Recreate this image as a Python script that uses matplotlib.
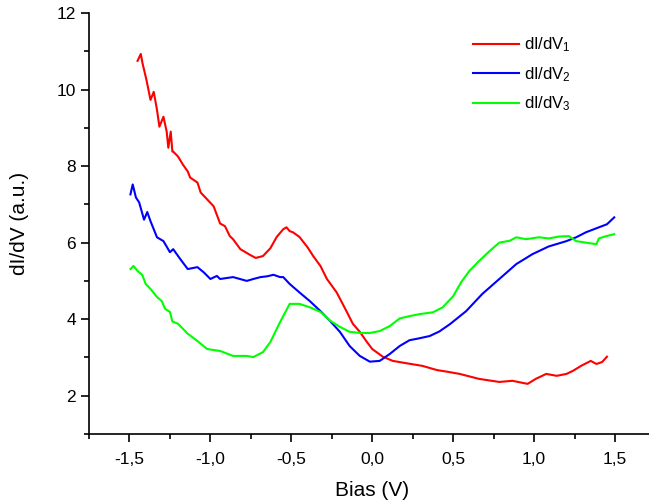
import matplotlib
matplotlib.use("Agg")
import matplotlib.pyplot as plt
from matplotlib.ticker import MultipleLocator, FuncFormatter

plt.rcParams['font.family'] = ['Liberation Sans', 'DejaVu Sans']
plt.rcParams['mathtext.default'] = 'regular'

# dI/dV1 (red)
x1 = [-1.45, -1.43, -1.42, -1.395, -1.37, -1.35, -1.33, -1.315, -1.29, -1.27, -1.26, -1.245, -1.235,
      -1.23, -1.2, -1.17, -1.14, -1.125, -1.08, -1.06, -1.02, -0.98, -0.94, -0.91, -0.88, -0.86,
      -0.815, -0.755, -0.72, -0.675, -0.63, -0.59, -0.55, -0.53, -0.51, -0.49, -0.45, -0.40,
      -0.365, -0.32, -0.28, -0.22, -0.157, -0.12, -0.077, -0.034, 0.0, 0.065, 0.127, 0.21,
      0.31, 0.40, 0.46, 0.54, 0.66, 0.785, 0.866, 0.96, 1.01, 1.075, 1.14, 1.2, 1.24, 1.29,
      1.35, 1.385, 1.42, 1.45]
y1 = [10.75, 10.93, 10.7, 10.25, 9.73, 9.94, 9.47, 9.03, 9.29, 8.9, 8.48, 8.9, 8.38,
      8.38, 8.25, 8.04, 7.86, 7.7, 7.57, 7.31, 7.13, 6.95, 6.5, 6.43, 6.17, 6.09,
      5.83, 5.68, 5.6, 5.65, 5.85, 6.15, 6.35, 6.4, 6.3, 6.27, 6.15, 5.88,
      5.65, 5.39, 5.05, 4.7, 4.19, 3.88, 3.67, 3.41, 3.22, 3.02, 2.91, 2.85,
      2.78, 2.67, 2.63, 2.57, 2.44, 2.36, 2.39, 2.31, 2.44, 2.57, 2.52, 2.57, 2.65, 2.78,
      2.91, 2.83, 2.88, 3.02]

# dI/dV2 (blue)
x2 = [-1.494, -1.48, -1.46, -1.44, -1.41, -1.39, -1.37, -1.35, -1.33, -1.29, -1.25, -1.23,
      -1.186, -1.14, -1.08, -1.04, -1.0, -0.96, -0.94, -0.86, -0.775, -0.735, -0.69, -0.65,
      -0.61, -0.57, -0.55, -0.51, -0.45, -0.385, -0.32, -0.26, -0.2, -0.14, -0.077, -0.015,
      0.046, 0.108, 0.17, 0.23, 0.29, 0.355, 0.415, 0.48, 0.58, 0.68, 0.785, 0.89, 0.99,
      1.09, 1.2, 1.26, 1.32, 1.4, 1.45, 1.495]
y2 = [7.26, 7.52, 7.18, 7.05, 6.6, 6.8, 6.56, 6.35, 6.14, 6.04, 5.75, 5.83,
      5.57, 5.31, 5.36, 5.22, 5.05, 5.13, 5.05, 5.1, 5.0, 5.05, 5.1, 5.12,
      5.16, 5.1, 5.1, 4.92, 4.7, 4.47, 4.21, 3.95, 3.67, 3.3, 3.04, 2.89,
      2.91, 3.09, 3.3, 3.45, 3.5, 3.56, 3.68, 3.87, 4.21, 4.66, 5.05, 5.44, 5.7,
      5.9, 6.04, 6.14, 6.27, 6.4, 6.48, 6.66]

# dI/dV3 (green)
x3 = [-1.494, -1.475, -1.45, -1.42, -1.4, -1.37, -1.33, -1.3, -1.28, -1.25, -1.235, -1.2,
      -1.14, -1.08, -1.02, -0.94, -0.86, -0.775, -0.735, -0.675, -0.63, -0.57, -0.51,
      -0.45, -0.385, -0.32, -0.26, -0.2, -0.14, -0.077, -0.015, 0.046, 0.108, 0.17, 0.23,
      0.29, 0.375, 0.435, 0.5, 0.55, 0.6, 0.66, 0.725, 0.785, 0.85, 0.89, 0.95, 1.03,
      1.09, 1.155, 1.215, 1.26, 1.32, 1.385, 1.4, 1.445, 1.495]
y3 = [5.31, 5.39, 5.26, 5.15, 4.92, 4.79, 4.58, 4.47, 4.27, 4.19, 3.94, 3.88,
      3.62, 3.43, 3.22, 3.17, 3.04, 3.04, 3.01, 3.14, 3.4, 3.92, 4.4,
      4.4, 4.31, 4.19, 3.96, 3.8, 3.67, 3.64, 3.64, 3.69, 3.82, 4.02, 4.08,
      4.13, 4.18, 4.31, 4.6, 4.97, 5.26, 5.52, 5.78, 6.0, 6.05, 6.14, 6.09, 6.14,
      6.11, 6.16, 6.17, 6.04, 6.0, 5.96, 6.11, 6.17, 6.22]

labels = ['dI/dV$_1$', 'dI/dV$_2$', 'dI/dV$_3$']
colors = ['#ff0000', '#0000ff', '#00ff00']

W, H = 649, 503
fig = plt.figure(figsize=(W / 100, H / 100), dpi=100)
left, right, bottom, top = 89, 655.5, 434, 13
ax = fig.add_axes([left / W, (H - bottom) / H, (right - left) / W, (bottom - top) / H])

for xs, ys, c, lab in zip([x1, x2, x3], [y1, y2, y3], colors, labels):
    ax.plot(xs, ys, color=c, lw=1.5, label=lab)

ax.set_xlim(-1.75, 1.75)
ax.set_ylim(1, 12)
ax.spines['top'].set_visible(False)
ax.spines['right'].set_visible(False)
for s in ['left', 'bottom']:
    ax.spines[s].set_linewidth(1.2)

ax.xaxis.set_major_locator(MultipleLocator(0.5))
ax.xaxis.set_minor_locator(MultipleLocator(0.25))
ax.yaxis.set_major_locator(MultipleLocator(2))
ax.yaxis.set_minor_locator(MultipleLocator(1))
ax.xaxis.set_major_formatter(FuncFormatter(lambda v, p: f"{v:.1f}".replace('.', ',').replace('\u2212', '-')))
ax.yaxis.set_major_formatter(FuncFormatter(lambda v, p: f"{v:.0f}"))
ax.tick_params(which='major', direction='out', length=6, width=1.2, labelsize=12.5)
ax.tick_params(which='minor', direction='out', length=3.5, width=1.2)
ax.tick_params(axis='x', which='major', pad=7)
ax.tick_params(axis='y', which='major', pad=3.5)

ax.set_xlabel('Bias (V)', fontsize=15, labelpad=10)
ax.set_ylabel('dI/dV (a.u.)', fontsize=15, labelpad=20)

leg = ax.legend(loc='upper left', bbox_to_anchor=(377 / (right - left), 1 - 16 / (bottom - top)),
                frameon=False, fontsize=12, handlelength=2.76, handletextpad=0.3,
                labelspacing=0.65, borderaxespad=0)

fig.savefig('out.png', dpi=100)
